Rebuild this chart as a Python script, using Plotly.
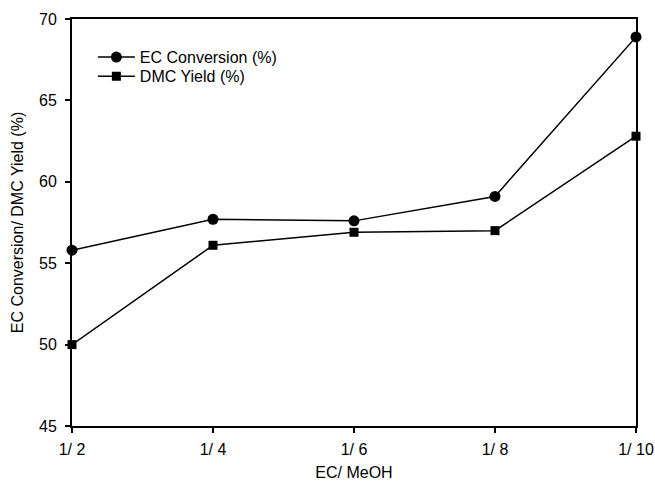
import plotly.graph_objects as go

ratios = ["1/ 2", "1/ 4", "1/ 6", "1/ 8", "1/ 10"]
ec_conversion = [55.8, 57.7, 57.6, 59.1, 68.9]
dmc_yield = [50.0, 56.1, 56.9, 57.0, 62.8]
y_ticks = [45, 50, 55, 60, 65, 70]

idx = list(range(len(ratios)))
fig = go.Figure()
fig.add_trace(go.Scatter(x=idx, y=ec_conversion, mode="lines+markers", name="EC Conversion (%)",
                         line=dict(color="black", width=1.5), legend="legend",
                         marker=dict(symbol="circle", size=11, color="black"), cliponaxis=False))
fig.add_trace(go.Scatter(x=idx, y=dmc_yield, mode="lines+markers", name="DMC Yield (%)",
                         line=dict(color="black", width=1.5), legend="legend2",
                         marker=dict(symbol="square", size=9, color="black"), cliponaxis=False))

leg_common = dict(x=0.037, xanchor="left", yanchor="top", bgcolor="rgba(0,0,0,0)",
                  font=dict(size=16, color="black"), tracegroupgap=0, itemwidth=37)
fig.update_layout(
    width=655, height=482,
    margin=dict(l=72, r=19, t=19, b=56),
    plot_bgcolor="white", paper_bgcolor="white",
    font=dict(family="Liberation Sans, Arial, sans-serif", size=16, color="black"),
    showlegend=True,
    legend=dict(y=0.948, **leg_common),
    legend2=dict(y=0.901, **leg_common),
)
fig.update_xaxes(
    range=[0, 4], tickmode="array", tickvals=idx, ticktext=ratios,
    showline=True, linecolor="black", linewidth=1.8, mirror=True,
    ticks="outside", ticklen=5, tickwidth=1.5, tickcolor="black",
    tickfont=dict(size=16, color="black"), ticklabelstandoff=3,
    showgrid=False, zeroline=False, automargin=False,
    title=dict(text="EC/ MeOH", standoff=10, font=dict(size=16, color="black")),
)
fig.update_yaxes(
    range=[45, 70], tickvals=y_ticks,
    showline=True, linecolor="black", linewidth=1.8, mirror=True,
    ticks="outside", ticklen=5, tickwidth=1.5, tickcolor="black",
    tickfont=dict(size=16, color="black"), ticklabelstandoff=5,
    showgrid=False, zeroline=False, automargin=False,
    title=dict(text="EC Conversion/ DMC Yield (%)", standoff=12, font=dict(size=16, color="black")),
)
fig.write_html("out.html", config={"displayModeBar": False},
               post_script="document.body.style.margin='0';document.body.style.padding='0';")
